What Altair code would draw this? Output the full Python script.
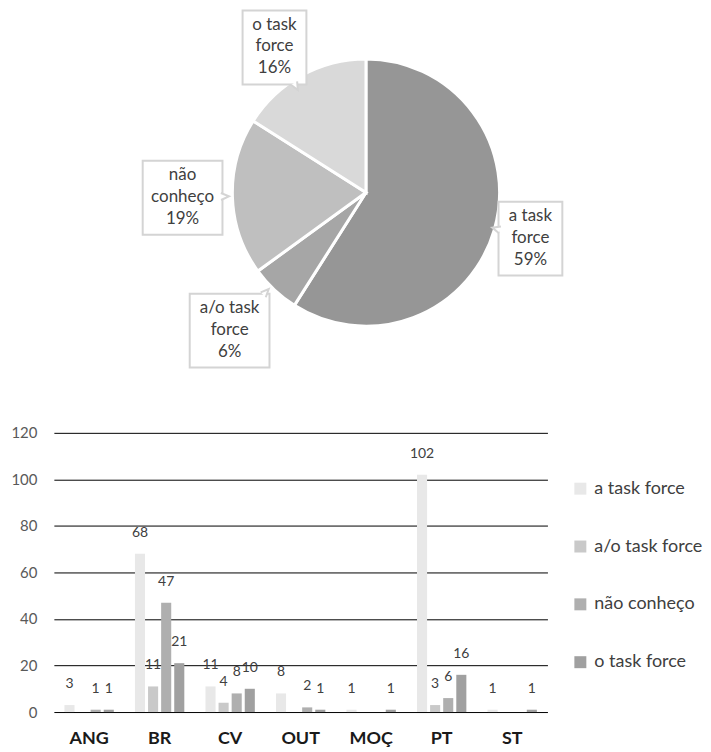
import altair as alt
import pandas as pd

# ---- data ----
pie_labels = ["a task force", "a/o task force", "não conheço", "o task force"]
pie_values = [59, 6, 19, 16]
pie_text = ["a task\nforce\n59%", "a/o task\nforce\n6%", "não\nconheço\n19%", "o task\nforce\n16%"]
pie_colors = ["#969696", "#a6a6a6", "#bfbfbf", "#d9d9d9"]

countries = ["ANG", "BR", "CV", "OUT", "MOÇ", "PT", "ST"]
series = ["a task force", "a/o task force", "não conheço", "o task force"]
a_task = [3, 68, 11, 8, 1, 102, 1]
ao_task = [0, 11, 4, 0, 0, 3, 0]
nao = [1, 47, 8, 2, 0, 6, 0]
o_task = [1, 21, 10, 1, 1, 16, 1]
bar_colors = ["#e8e8e8", "#c9c9c9", "#afafaf", "#a0a0a0"]

FONT = "Lato"
BOXC = "#d4d4d4"

# ---- pie ----
pie_df = pd.DataFrame({"label": pie_labels, "value": pie_values,
                       "text": pie_text, "order": list(range(len(pie_labels)))})
CX, CY, R = 313, 184, 134
BH = 37  # half box height

pbase = alt.Chart(pie_df)
arc = pbase.mark_arc(outerRadius=R, stroke="white", strokeWidth=3, x=CX, y=CY).encode(
    theta=alt.Theta("value:Q", stack=True),
    color=alt.Color("label:N", scale=alt.Scale(domain=pie_labels, range=pie_colors), legend=None),
    order=alt.Order("order:Q"),
)

lab = pbase.transform_joinaggregate(total="sum(value)").transform_window(
    cum="sum(value)", sort=[alt.SortField("order")], frame=[None, 0]
).transform_calculate(
    mid="(datum.cum - datum.value/2)/datum.total*2*PI",
    rx="datum.value < 10 ? 191 : 178",
    ry="datum.value < 10 ? 190 : 166",
    cx=f"{CX - 6}+datum.rx*sin(datum.mid)",
    cy=f"{CY}-datum.ry*cos(datum.mid)",
    w="(indexof(datum.text,'a/o')>=0 || indexof(datum.text,'não')>=0) ? 80 : 64",
    x1="datum.cx - datum.w/2",
    x2="datum.cx + datum.w/2",
    y1=f"datum.cy - {BH}",
    y2=f"datum.cy + {BH}",
    ty="datum.y1 + 6",
    dx="-sin(datum.mid)",
    dy="cos(datum.mid)",
    t=f"min((datum.w/2)/max(abs(datum.dx),0.001), {BH}/max(abs(datum.dy),0.001)) - 1.5",
    nx="datum.cx + datum.t*datum.dx",
    ny="datum.cy + datum.t*datum.dy",
    nang="(atan2(-datum.dx, datum.dy)*180/PI + 360) % 360",
)
boxes = lab.mark_rect(fill="white", stroke=BOXC, strokeWidth=2).encode(
    x=alt.X("x1:Q", scale=None, axis=None), x2="x2:Q",
    y=alt.Y("y1:Q", scale=None, axis=None), y2="y2:Q",
)
notches = lab.mark_point(shape="M-0.7,0L0,1.6L0.7,0", size=100, filled=True, fill="white",
                         stroke=BOXC, strokeWidth=2, opacity=1).encode(
    x=alt.X("nx:Q", scale=None, axis=None),
    y=alt.Y("ny:Q", scale=None, axis=None),
    angle=alt.Angle("nang:Q", scale=None),
)
texts = lab.mark_text(lineBreak="\n", lineHeight=22, fontSize=17, font=FONT,
                      color="#404040", baseline="top", align="center").encode(
    x=alt.X("cx:Q", scale=None, axis=None),
    y=alt.Y("ty:Q", scale=None, axis=None),
    text="text:N",
)
pie = alt.layer(arc, boxes, notches, texts).properties(width=600, height=418)

# ---- bars ----
rows = []
for i, c in enumerate(countries):
    for s, vals in zip(series, [a_task, ao_task, nao, o_task]):
        rows.append({"country": c, "series": s, "value": vals[i]})
bar_df = pd.DataFrame(rows)

bbase = alt.Chart(bar_df).encode(
    x=alt.X("country:N", sort=countries,
            scale=alt.Scale(paddingInner=0.3, paddingOuter=0.15),
            axis=alt.Axis(title=None, labelAngle=0, labelFontSize=18, labelFontWeight="bold",
                          labelColor="#1a1a1a", labelFont=FONT, domain=False, ticks=False,
                          labelPadding=18)),
    xOffset=alt.XOffset("series:N", sort=series, scale=alt.Scale(paddingInner=0.23)),
    y=alt.Y("value:Q", scale=alt.Scale(domain=[0, 120]),
            axis=alt.Axis(values=[0, 20, 40, 60, 80, 100, 120], title=None, grid=True,
                          gridColor="#000000", gridWidth=1, domain=False, ticks=False,
                          labelFontSize=15, labelColor="#595959", labelPadding=17,
                          labelFont=FONT)),
)
bars = bbase.mark_bar().encode(
    color=alt.Color("series:N", sort=series,
                    scale=alt.Scale(domain=series, range=bar_colors),
                    legend=alt.Legend(title=None, orient="none", legendX=519, legendY=47,
                                      symbolType="square", symbolSize=144, labelFontSize=18,
                                      labelFont=FONT, labelColor="#404040", rowPadding=40,
                                      symbolStrokeWidth=0, labelOffset=5, padding=0)),
)
blabels = bbase.transform_filter("datum.value > 0").mark_text(
    dy=-21, fontSize=14, font=FONT, color="#404040", baseline="middle"
).encode(text="value:Q")

barchart = alt.layer(bars, blabels).properties(width=495, height=280)

chart = alt.vconcat(pie, barchart, spacing=0).resolve_scale(
    color="independent", x="independent", y="independent"
).configure(padding={"left": 2, "top": 0, "right": 0, "bottom": 0}).configure_view(stroke=None)

chart.save("out.html", embed_options={"renderer": "svg", "actions": False})
